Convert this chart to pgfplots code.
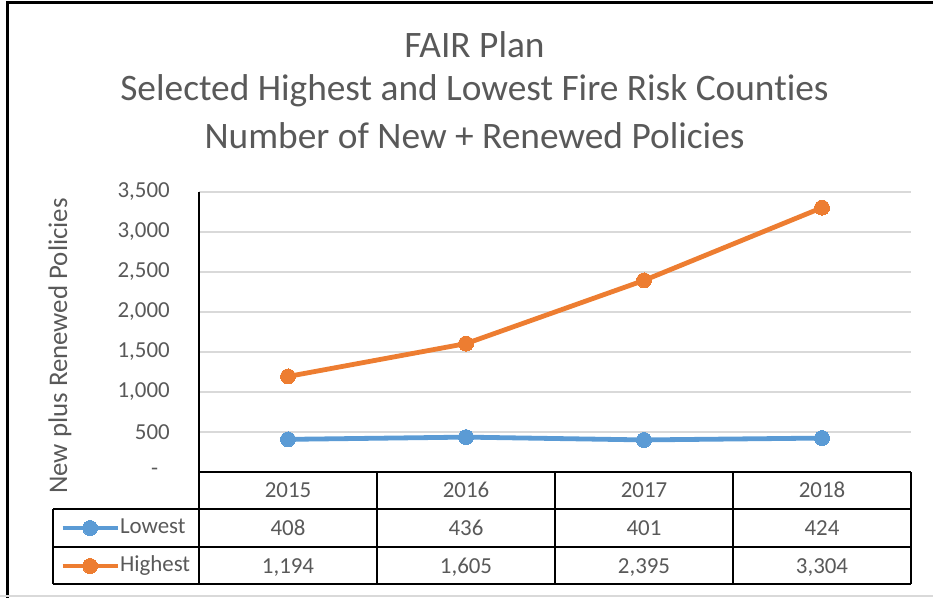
\documentclass[border=0pt]{standalone}
\usepackage{pgfplots}
\pgfplotsset{compat=1.18}
\usepackage{fontspec}
\setmainfont{Carlito}[Ligatures=NoCommon]
\definecolor{lowc}{HTML}{5B9BD5}
\definecolor{highc}{HTML}{ED7D31}
\definecolor{txt}{HTML}{595959}
\definecolor{gridc}{HTML}{D9D9D9}
\newcommand{\tf}{\fontsize{23}{26}\selectfont}
\tikzset{cell/.style={font=\tf, text=txt, inner sep=0pt, text height=14.5bp, text depth=0bp, anchor=center}}
\begin{document}
\begin{tikzpicture}
\begin{axis}[
  at={(199bp,126bp)}, anchor=south west, scale only axis,
  width=712bp, height=280bp,
  xmin=-0.5, xmax=3.5, ymin=0, ymax=3500, clip=false,
  axis x line=bottom, axis y line=left,
  axis line style={line width=1.5bp, black, -},
  ymajorgrids, grid style={gridc, line width=1.5bp},
  major tick length=0pt,
  xtick={0,1,2,3}, xticklabels={2015,2016,2017,2018},
  ytick={0,500,...,3500},
  yticklabels={{-\hphantom{0}},500,{1,000},{1,500},{2,000},{2,500},{3,000},{3,500}},
  ticklabel style={font=\tf, text=txt, inner sep=0pt},
  xticklabel style={anchor=center, text height=14.5bp, text depth=0bp, yshift=-18.5bp},
  yticklabel style={anchor=east, xshift=-29bp},
  /pgf/number format/assume math mode=true,
  legend cell align=left,
  legend style={at={(-0.1952,-0.2679)}, anchor=west, draw=none, fill=none,
    inner sep=0pt, row sep=17bp, font=\tf, text=txt,
    nodes={inner sep=0pt, text height=16bp, text depth=5bp},
    /tikz/every even column/.append style={column sep=2bp}},
  legend image code/.code={\draw[mark repeat=2, mark phase=2, #1] plot coordinates {(0bp,0bp) (27.5bp,0bp) (55bp,0bp)};},
]
\addplot[lowc, line width=4.8bp, mark=*, mark size=7.5bp, mark options={solid, fill=lowc, draw=lowc, line width=0pt}]
  coordinates {(0,408) (1,436) (2,401) (3,424)};
\addlegendentry{Lowest}
\addplot[highc, line width=4.8bp, mark=*, mark size=7.5bp, mark options={solid, fill=highc, draw=highc, line width=0pt}]
  coordinates {(0,1194) (1,1605) (2,2395) (3,3304)};
\addlegendentry{Highest}
% data table grid
\draw[black, line width=1.5bp] (axis cs:-0.5,0) -- (axis cs:-0.5,-1400);
\draw[black, line width=1.5bp] (axis cs:-1.32,-462.5) -- (axis cs:3.5,-462.5);
\draw[black, line width=1.5bp] (axis cs:-1.32,-937.5) -- (axis cs:3.5,-937.5);
\draw[black, line width=1.5bp] (axis cs:-1.32,-1400) -- (axis cs:3.5,-1400);
\draw[black, line width=1.5bp] (axis cs:-1.32,-462.5) -- (axis cs:-1.32,-1400);
\draw[black, line width=1.5bp] (axis cs:0.5,0) -- (axis cs:0.5,-1400);
\draw[black, line width=1.5bp] (axis cs:1.5,0) -- (axis cs:1.5,-1400);
\draw[black, line width=1.5bp] (axis cs:2.5,0) -- (axis cs:2.5,-1400);
\draw[black, line width=1.5bp] (axis cs:3.5,0) -- (axis cs:3.5,-1400);
% table values
\node[cell] at (axis cs:0,-700) {408};
\node[cell] at (axis cs:1,-700) {436};
\node[cell] at (axis cs:2,-700) {401};
\node[cell] at (axis cs:3,-700) {424};
\node[cell] at (axis cs:0,-1175) {1,194};
\node[cell] at (axis cs:1,-1175) {1,605};
\node[cell] at (axis cs:2,-1175) {2,395};
\node[cell] at (axis cs:3,-1175) {3,304};
\end{axis}
% titles
\node[font=\fontsize{37.5}{44}\selectfont, text=txt] at (474.5bp,553bp) {FAIR Plan};
\node[font=\fontsize{37.5}{44}\selectfont, text=txt] at (474.5bp,507bp) {Selected Highest and Lowest Fire Risk Counties};
\node[font=\fontsize{37.5}{44}\selectfont, text=txt] at (474.5bp,462bp) {Number of New + Renewed Policies};
\node[font=\fontsize{27}{30}\selectfont, text=txt, rotate=90] at (60bp,252bp) {New plus Renewed Policies};
% frame
\draw[black, line width=3bp] (7.5bp,0bp) -- (7.5bp,595.5bp);
\draw[black, line width=3bp] (6bp,595.5bp) -- (933bp,595.5bp);
\draw[gridc, line width=1.5bp] (0bp,2bp) -- (933bp,2bp);
\pgfresetboundingbox
\useasboundingbox (0bp,0bp) rectangle (933bp,598bp);
\end{tikzpicture}
\end{document}
